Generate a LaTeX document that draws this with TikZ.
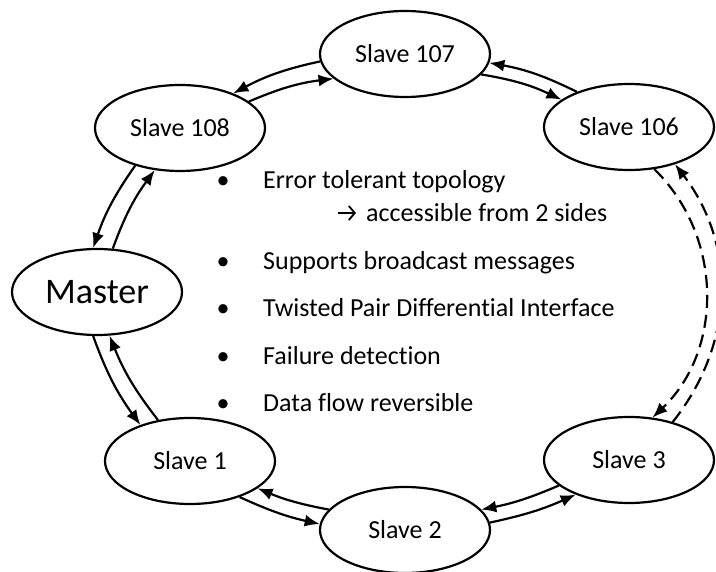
\documentclass[tikz,border=0pt]{standalone}
\usepackage{fontspec}
\setmainfont{Carlito}[Ligatures=NoCommon]
\usetikzlibrary{arrows.meta,shapes.geometric}
\begin{document}
\begin{tikzpicture}[x=1pt,y=-1pt,
  station/.style={ellipse, draw, line width=2.2pt, minimum width=170pt,
    minimum height=86pt, inner sep=0pt, font=\fontsize{26}{30}\selectfont},
  link/.style={line width=2.2pt, -{Latex[length=15pt,width=12pt]}},
  spare/.style={link, dash pattern=on 13pt off 7pt},
  item/.style={anchor=base west, inner sep=0pt, font=\fontsize{26}{30}\selectfont},
  dot/.style={anchor=base, inner sep=0pt, font=\fontsize{26}{30}\selectfont}]
\useasboundingbox (0,0) rectangle (716,572);

% ring stations
\node[station] (s107) at (405,54) {Slave 107};
\node[station] (s108) at (180,128) {Slave 108};
\node[station] (s106) at (629,127) {Slave 106};
\node[station, font=\fontsize{36}{40}\selectfont] (m) at (97,292) {Master};
\node[station] (s1) at (190,461) {Slave 1};
\node[station] (s2) at (405,530) {Slave 2};
\node[station] (s3) at (629,460) {Slave 3};

% bidirectional links between neighbours
\draw[link] (s107.185) to[bend right=8] (s108.33);
\draw[link] (s108.21) to[bend left=8] (s107.199);

\draw[link] (s106.146) to[bend right=8] (s107.354);
\draw[link] (s107.345) to[bend left=8] (s106.158);

\draw[spare] (s106.301) to[bend left=46] (s3.61);
\draw[spare] (s3.41) to[bend right=38] (s106.321);

\draw[link] (s3.200) to[bend left=6] (s2.15);
\draw[link] (s2.5) to[bend right=6] (s3.213);

\draw[link] (s2.165) to[bend left=6] (s1.338);
\draw[link] (s1.324) to[bend right=6] (s2.176);

\draw[link] (s1.128) to[bend left=8] (m.286);
\draw[link] (m.265) to[bend right=8] (s1.144);

\draw[link] (s108.220) to[bend right=8] (m.95);
\draw[link] (m.70) to[bend left=8] (s108.239);

% feature list
\node[dot] (b1) at (223,189) {•};
\node[item] (t1) at (263,189) {Error tolerant topology};
\node[item] (t1b) at (366,222) {accessible from 2 sides};
\coordinate (ar0) at (338,213);
\coordinate (ar1) at (356,213);
\draw[line width=1.8pt, -{Straight Barb[length=6pt,width=14pt]}] (ar0) -- (ar1);
\node[dot] (b2) at (223,270) {•};
\node[item] (t2) at (263,270) {Supports broadcast messages};
\node[dot] (b3) at (223,317) {•};
\node[item] (t3) at (263,317) {Twisted Pair Differential Interface};
\node[dot] (b4) at (223,365) {•};
\node[item] (t4) at (263,365) {Failure detection};
\node[dot] (b5) at (223,412) {•};
\node[item] (t5) at (263,412) {Data flow reversible};
\end{tikzpicture}
\end{document}
